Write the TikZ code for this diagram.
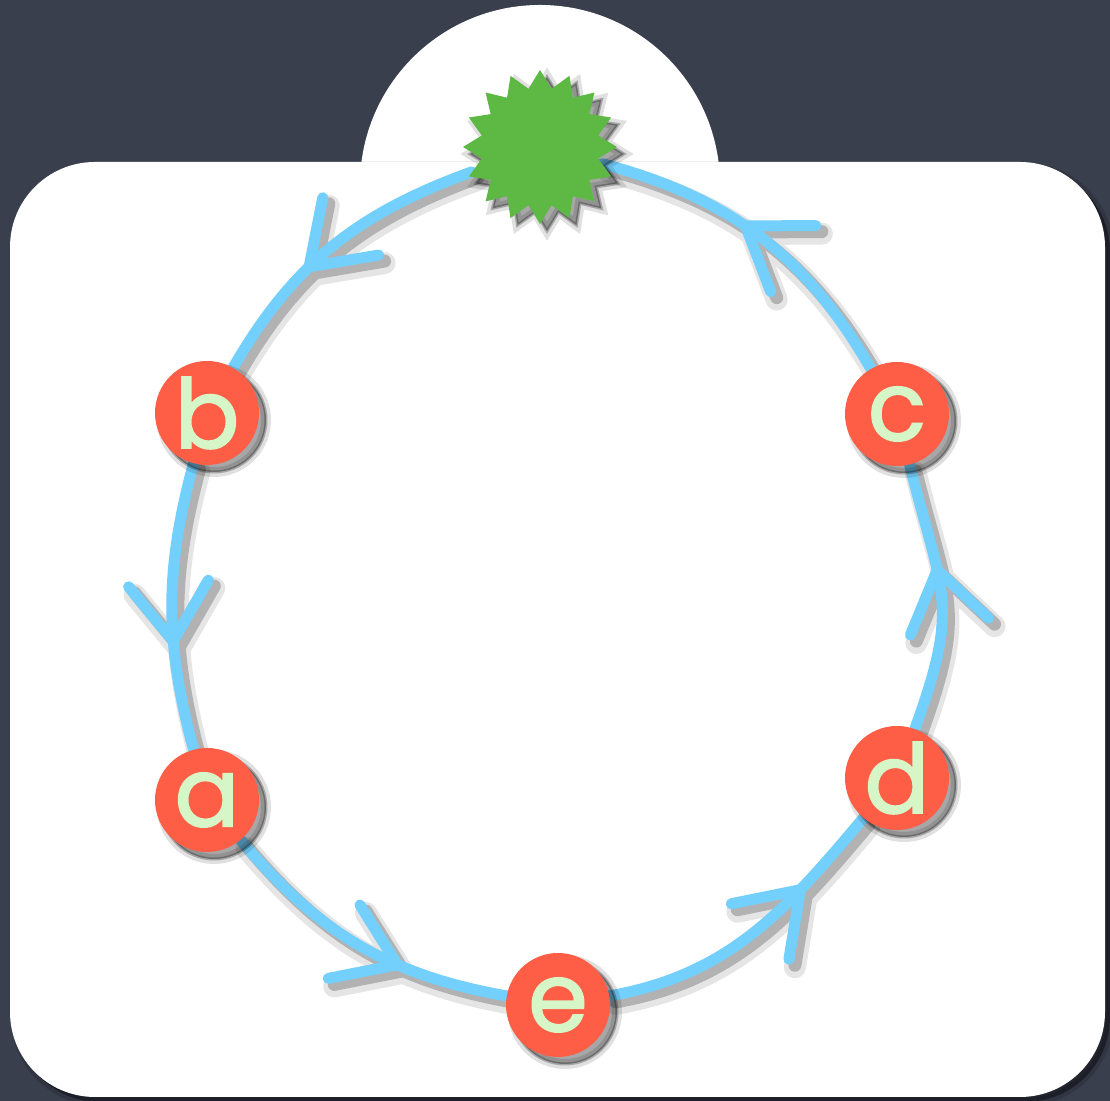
\documentclass[tikz,border=0pt]{standalone}
\usepackage{fontspec}
\newfontfamily\lblfont{Poppins}[FakeBold=1.8]
\usetikzlibrary{shapes.geometric,decorations.markings}
\definecolor{board}{RGB}{58,63,78}
\definecolor{chalkblue}{RGB}{115,207,252}
\definecolor{tomato}{RGB}{255,94,70}
\definecolor{mint}{RGB}{214,246,200}
\definecolor{burst}{RGB}{94,184,68}
\pgfdeclarelayer{back}
\pgfdeclarelayer{lines}
\pgfsetlayers{back,lines,main}

% the six links of the cycle, drawn with the current link style
\newcommand\cyclelinks{%
  \draw[link=0.60] (star) to[out=200,in=60]  (b);
  \draw[link=0.62] (b)    to[out=255,in=105] (a);
  \draw[link=0.64] (a)    to[out=-50,in=170] (e);
  \draw[link=0.70] (e)    to[out=10,in=230]  (d);
  \draw[link=0.60] (d)    to[out=70,in=-76,looseness=1.3]  (c);
  \draw[link=0.55] (c)    to[out=120,in=-15] (star);
}

\begin{document}
\begin{tikzpicture}[x=0.5pt,y=0.5pt,
  softshade/.style={
    preaction={fill=black, opacity=0.12, draw=black, line width=5pt,
      transform canvas={shift={(3.5pt,-3.5pt)}}},
    preaction={fill=black, opacity=0.25, draw=black, line width=1.5pt,
      transform canvas={shift={(3.5pt,-3.5pt)}}}},
  vertex/.style={circle, fill=tomato, minimum size=52pt, inner sep=0pt,
    text=mint, font=\lblfont\fontsize{48}{48}\selectfont, softshade},
  linkhead/.style={draw=chalkblue, line width=5.5pt, line cap=round, line join=miter},
  link/.style={draw=chalkblue, line width=5.5pt, line cap=round,
    decoration={markings, mark=at position #1 with
      {\draw[linkhead] (-29pt,20pt) -- (0,0) -- (-29pt,-20pt);}},
    postaction=decorate}]

  \useasboundingbox (0,0) rectangle (1110,1101);

  \begin{pgfonlayer}{back}
    % chalkboard
    \fill[board] (0,0) rectangle (1110,1101);
    % shadow of the card
    \begin{scope}[transform canvas={shift={(2.5pt,-2.5pt)}}]
      \fill[black, opacity=0.15, draw=black, line width=4pt,
        rounded corners=42.5pt] (10,4) rectangle (1105,939);
      \fill[black, opacity=0.3, rounded corners=42.5pt]
        (10,4) rectangle (1105,939);
    \end{scope}
    % card with its rounded tab
    \fill[white] (540,916) circle[radius=180];
    \fill[black!8] (362,936) rectangle (718,940);
    \fill[white, rounded corners=42.5pt] (10,4) rectangle (1105,939);
  \end{pgfonlayer}

  % nodes
  \node[star, star points=16, star point ratio=1.3, minimum size=77pt,
    inner sep=0pt, fill=burst, softshade] (star) at (540,954) {};
  \node[vertex] (b) at (207,688) {b};
  \node[vertex] (c) at (897,687) {c};
  \node[vertex] (a) at (207,301) {a};
  \node[vertex] (d) at (897,323) {d};
  \node[vertex] (e) at (558,96)  {e};

  \begin{pgfonlayer}{lines}
    % soft shadow under the chalk lines
    \begin{scope}[transform canvas={shift={(3pt,-4pt)}}]
      \begin{scope}[transparency group, opacity=0.10,
          link/.append style={draw=black, line width=11pt},
          linkhead/.append style={draw=black, line width=11pt}]
        \cyclelinks
      \end{scope}
    \end{scope}
    \begin{scope}[transform canvas={shift={(3pt,-3pt)}}]
      \begin{scope}[transparency group, opacity=0.22,
          link/.append style={draw=black, line width=6.5pt},
          linkhead/.append style={draw=black, line width=6.5pt}]
        \cyclelinks
      \end{scope}
    \end{scope}
    % chalk lines
    \cyclelinks
  \end{pgfonlayer}
\end{tikzpicture}
\end{document}
